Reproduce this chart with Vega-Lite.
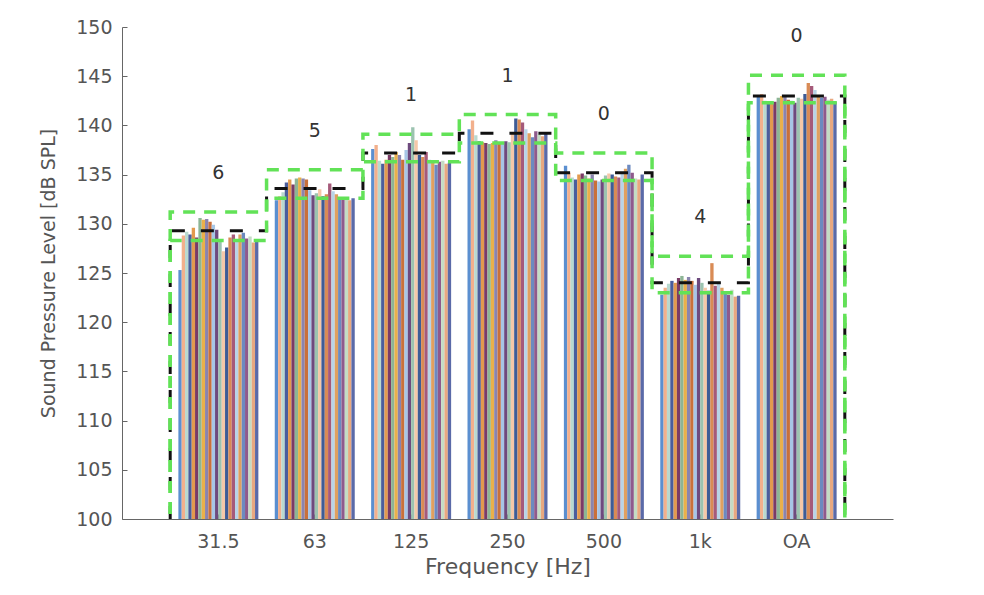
{
  "$schema": "https://vega.github.io/schema/vega-lite/v6.json",
  "width": 771,
  "height": 492,
  "autosize": {"type": "none"},
  "padding": {"left": 122, "top": 27, "right": 91, "bottom": 76},
  "background": "white",
  "config": {
    "view": {"stroke": null},
    "font": "DejaVu Sans",
    "axis": {"grid": false, "domainColor": "#666", "tickColor": "#666", "labelColor": "#555", "titleColor": "#555", "labelFont": "DejaVu Sans", "titleFont": "DejaVu Sans", "titleFontWeight": "normal"}
  },
  "datasets": {
    "bars": [
      {"f": "31.5", "s": "s01", "v": 125.3}, {"f": "31.5", "s": "s02", "v": 128.8}, {"f": "31.5", "s": "s03", "v": 129.2}, {"f": "31.5", "s": "s04", "v": 128.9},
      {"f": "31.5", "s": "s05", "v": 129.6}, {"f": "31.5", "s": "s06", "v": 128.6}, {"f": "31.5", "s": "s07", "v": 130.6}, {"f": "31.5", "s": "s08", "v": 130.4},
      {"f": "31.5", "s": "s09", "v": 130.5}, {"f": "31.5", "s": "s10", "v": 130.2}, {"f": "31.5", "s": "s11", "v": 129.9}, {"f": "31.5", "s": "s12", "v": 129.4},
      {"f": "31.5", "s": "s13", "v": 128.4}, {"f": "31.5", "s": "s14", "v": 127.2}, {"f": "31.5", "s": "s15", "v": 127.6}, {"f": "31.5", "s": "s16", "v": 128.6},
      {"f": "31.5", "s": "s17", "v": 128.9}, {"f": "31.5", "s": "s18", "v": 128.3}, {"f": "31.5", "s": "s19", "v": 128.9}, {"f": "31.5", "s": "s20", "v": 129.1},
      {"f": "31.5", "s": "s21", "v": 128.5}, {"f": "31.5", "s": "s22", "v": 128.7}, {"f": "31.5", "s": "s23", "v": 128.1}, {"f": "31.5", "s": "s24", "v": 128.4},
      {"f": "63", "s": "s01", "v": 132.4}, {"f": "63", "s": "s02", "v": 132.8}, {"f": "63", "s": "s03", "v": 133.2}, {"f": "63", "s": "s04", "v": 134.2},
      {"f": "63", "s": "s05", "v": 134.5}, {"f": "63", "s": "s06", "v": 134.0}, {"f": "63", "s": "s07", "v": 134.6}, {"f": "63", "s": "s08", "v": 134.7},
      {"f": "63", "s": "s09", "v": 134.6}, {"f": "63", "s": "s10", "v": 134.5}, {"f": "63", "s": "s11", "v": 133.4}, {"f": "63", "s": "s12", "v": 132.9},
      {"f": "63", "s": "s13", "v": 133.1}, {"f": "63", "s": "s14", "v": 133.5}, {"f": "63", "s": "s15", "v": 132.8}, {"f": "63", "s": "s16", "v": 133.0},
      {"f": "63", "s": "s17", "v": 134.1}, {"f": "63", "s": "s18", "v": 133.3}, {"f": "63", "s": "s19", "v": 133.0}, {"f": "63", "s": "s20", "v": 132.6},
      {"f": "63", "s": "s21", "v": 132.5}, {"f": "63", "s": "s22", "v": 132.7}, {"f": "63", "s": "s23", "v": 132.4}, {"f": "63", "s": "s24", "v": 132.6},
      {"f": "125", "s": "s01", "v": 137.6}, {"f": "125", "s": "s02", "v": 138.0}, {"f": "125", "s": "s03", "v": 136.4}, {"f": "125", "s": "s04", "v": 136.1},
      {"f": "125", "s": "s05", "v": 136.5}, {"f": "125", "s": "s06", "v": 137.0}, {"f": "125", "s": "s07", "v": 136.8}, {"f": "125", "s": "s08", "v": 137.3},
      {"f": "125", "s": "s09", "v": 137.0}, {"f": "125", "s": "s10", "v": 136.5}, {"f": "125", "s": "s11", "v": 137.5}, {"f": "125", "s": "s12", "v": 138.2},
      {"f": "125", "s": "s13", "v": 139.8}, {"f": "125", "s": "s14", "v": 138.5}, {"f": "125", "s": "s15", "v": 137.0}, {"f": "125", "s": "s16", "v": 136.8},
      {"f": "125", "s": "s17", "v": 137.3}, {"f": "125", "s": "s18", "v": 136.5}, {"f": "125", "s": "s19", "v": 136.2}, {"f": "125", "s": "s20", "v": 136.0},
      {"f": "125", "s": "s21", "v": 136.3}, {"f": "125", "s": "s22", "v": 136.4}, {"f": "125", "s": "s23", "v": 136.1}, {"f": "125", "s": "s24", "v": 136.2},
      {"f": "250", "s": "s01", "v": 139.6}, {"f": "250", "s": "s02", "v": 140.5}, {"f": "250", "s": "s03", "v": 139.0}, {"f": "250", "s": "s04", "v": 138.4},
      {"f": "250", "s": "s05", "v": 138.3}, {"f": "250", "s": "s06", "v": 138.2}, {"f": "250", "s": "s07", "v": 138.1}, {"f": "250", "s": "s08", "v": 138.2},
      {"f": "250", "s": "s09", "v": 138.5}, {"f": "250", "s": "s10", "v": 138.3}, {"f": "250", "s": "s11", "v": 138.2}, {"f": "250", "s": "s12", "v": 138.4},
      {"f": "250", "s": "s13", "v": 138.3}, {"f": "250", "s": "s14", "v": 139.3}, {"f": "250", "s": "s15", "v": 140.7}, {"f": "250", "s": "s16", "v": 140.6},
      {"f": "250", "s": "s17", "v": 140.3}, {"f": "250", "s": "s18", "v": 139.6}, {"f": "250", "s": "s19", "v": 139.2}, {"f": "250", "s": "s20", "v": 138.8},
      {"f": "250", "s": "s21", "v": 139.4}, {"f": "250", "s": "s22", "v": 139.1}, {"f": "250", "s": "s23", "v": 138.9}, {"f": "250", "s": "s24", "v": 139.3},
      {"f": "500", "s": "s01", "v": 135.9}, {"f": "500", "s": "s02", "v": 135.2}, {"f": "500", "s": "s03", "v": 134.7}, {"f": "500", "s": "s04", "v": 134.5},
      {"f": "500", "s": "s05", "v": 135.0}, {"f": "500", "s": "s06", "v": 135.1}, {"f": "500", "s": "s07", "v": 134.9}, {"f": "500", "s": "s08", "v": 134.6},
      {"f": "500", "s": "s09", "v": 135.0}, {"f": "500", "s": "s10", "v": 134.4}, {"f": "500", "s": "s11", "v": 134.3}, {"f": "500", "s": "s12", "v": 134.5},
      {"f": "500", "s": "s13", "v": 134.9}, {"f": "500", "s": "s14", "v": 135.1}, {"f": "500", "s": "s15", "v": 135.0}, {"f": "500", "s": "s16", "v": 134.8},
      {"f": "500", "s": "s17", "v": 134.7}, {"f": "500", "s": "s18", "v": 135.3}, {"f": "500", "s": "s19", "v": 135.6}, {"f": "500", "s": "s20", "v": 136.0},
      {"f": "500", "s": "s21", "v": 135.2}, {"f": "500", "s": "s22", "v": 134.6}, {"f": "500", "s": "s23", "v": 134.5}, {"f": "500", "s": "s24", "v": 135.0},
      {"f": "1k", "s": "s01", "v": 122.8}, {"f": "1k", "s": "s02", "v": 123.5}, {"f": "1k", "s": "s03", "v": 123.9}, {"f": "1k", "s": "s04", "v": 124.2},
      {"f": "1k", "s": "s05", "v": 124.0}, {"f": "1k", "s": "s06", "v": 124.5}, {"f": "1k", "s": "s07", "v": 124.7}, {"f": "1k", "s": "s08", "v": 124.3},
      {"f": "1k", "s": "s09", "v": 124.6}, {"f": "1k", "s": "s10", "v": 124.2}, {"f": "1k", "s": "s11", "v": 123.8}, {"f": "1k", "s": "s12", "v": 124.5},
      {"f": "1k", "s": "s13", "v": 124.0}, {"f": "1k", "s": "s14", "v": 123.5}, {"f": "1k", "s": "s15", "v": 123.2}, {"f": "1k", "s": "s16", "v": 126.0},
      {"f": "1k", "s": "s17", "v": 123.7}, {"f": "1k", "s": "s18", "v": 124.0}, {"f": "1k", "s": "s19", "v": 123.5}, {"f": "1k", "s": "s20", "v": 123.0},
      {"f": "1k", "s": "s21", "v": 122.8}, {"f": "1k", "s": "s22", "v": 123.3}, {"f": "1k", "s": "s23", "v": 122.6}, {"f": "1k", "s": "s24", "v": 122.7},
      {"f": "OA", "s": "s01", "v": 142.9}, {"f": "OA", "s": "s02", "v": 143.2}, {"f": "OA", "s": "s03", "v": 142.5}, {"f": "OA", "s": "s04", "v": 142.3},
      {"f": "OA", "s": "s05", "v": 142.2}, {"f": "OA", "s": "s06", "v": 142.4}, {"f": "OA", "s": "s07", "v": 142.8}, {"f": "OA", "s": "s08", "v": 143.0},
      {"f": "OA", "s": "s09", "v": 142.9}, {"f": "OA", "s": "s10", "v": 142.6}, {"f": "OA", "s": "s11", "v": 142.5}, {"f": "OA", "s": "s12", "v": 142.3},
      {"f": "OA", "s": "s13", "v": 142.8}, {"f": "OA", "s": "s14", "v": 142.7}, {"f": "OA", "s": "s15", "v": 143.2}, {"f": "OA", "s": "s16", "v": 144.3},
      {"f": "OA", "s": "s17", "v": 144.0}, {"f": "OA", "s": "s18", "v": 143.6}, {"f": "OA", "s": "s19", "v": 143.0}, {"f": "OA", "s": "s20", "v": 142.8},
      {"f": "OA", "s": "s21", "v": 142.9}, {"f": "OA", "s": "s22", "v": 142.6}, {"f": "OA", "s": "s23", "v": 142.7}, {"f": "OA", "s": "s24", "v": 142.4}
    ],
    "limits": [
      {"i": 0, "upper": 99, "lower": 99, "mid": 99, "n": null},
      {"i": 1, "upper": 131.2, "lower": 128.3, "mid": 129.3, "n": "6"},
      {"i": 2, "upper": 135.5, "lower": 132.6, "mid": 133.6, "n": "5"},
      {"i": 3, "upper": 139.1, "lower": 136.3, "mid": 137.2, "n": "1"},
      {"i": 4, "upper": 141.1, "lower": 138.2, "mid": 139.2, "n": "1"},
      {"i": 5, "upper": 137.2, "lower": 134.4, "mid": 135.2, "n": "0"},
      {"i": 6, "upper": 126.7, "lower": 123.0, "mid": 124.0, "n": "4"},
      {"i": 7, "upper": 145.1, "lower": 142.3, "mid": 143.0, "n": "0"},
      {"i": 8, "upper": 99, "lower": 99, "mid": 99, "n": null}
    ]
  },
  "encoding": {
    "y": {
      "type": "quantitative",
      "scale": {"domain": [100, 150], "nice": false, "zero": false},
      "axis": {
        "title": "Sound Pressure Level [dB SPL]",
        "values": [100, 105, 110, 115, 120, 125, 130, 135, 140, 145, 150],
        "labelFontSize": 19, "titleFontSize": 19, "tickSize": -5, "labelPadding": 15, "titlePadding": 17
      }
    }
  },
  "layer": [
    {
      "data": {"name": "bars"},
      "mark": {"type": "bar"},
      "encoding": {
        "x": {
          "field": "f", "type": "nominal",
          "scale": {"domain": ["31.5", "63", "125", "250", "500", "1k", "OA"], "paddingInner": 0.17, "paddingOuter": 0.585},
          "axis": {"title": "Frequency [Hz]", "labelAngle": 0, "labelFontSize": 19, "titleFontSize": 22, "tickSize": -5, "labelPadding": 18, "titlePadding": 5}
        },
        "xOffset": {"field": "s", "type": "nominal", "scale": {"paddingInner": 0}},
        "y": {"field": "v"},
        "y2": {"datum": 100},
        "color": {
          "field": "s", "type": "nominal", "legend": null,
          "scale": {"range": ["#5B8FD0", "#F2B08C", "#B9D9CF", "#4A5D9C", "#E39A4E", "#7B3B66", "#8DB595", "#EAB04A", "#8A84AE", "#C9703A", "#A7C6E6", "#6E4A7E", "#9CC3B0", "#F5C8A8", "#3E5C96", "#D98B55", "#A55A7A", "#B8D4E8", "#E0A060", "#6C8AC0", "#8F5A8C", "#C4DCC4", "#E8A880", "#5A6AA8"]}
        }
      }
    },
    {
      "data": {"name": "limits"},
      "encoding": {
        "x": {"field": "i", "type": "quantitative", "scale": {"domain": [0, 8], "nice": false, "zero": false}, "axis": null}
      },
      "layer": [
        {"mark": {"type": "line", "interpolate": "step", "clip": true, "color": "#111", "strokeWidth": 3, "strokeDash": [13, 16]}, "encoding": {"y": {"field": "mid"}}},
        {"mark": {"type": "line", "interpolate": "step", "clip": true, "color": "#62E257", "strokeWidth": 3.5, "strokeDash": [12, 9]}, "encoding": {"y": {"field": "upper"}}},
        {"mark": {"type": "line", "interpolate": "step", "clip": true, "color": "#62E257", "strokeWidth": 3.5, "strokeDash": [12, 9]}, "encoding": {"y": {"field": "lower"}}},
        {
          "transform": [{"filter": "datum.n != null"}],
          "mark": {"type": "text", "fontSize": 19, "color": "#333", "dy": -39, "baseline": "middle", "font": "DejaVu Sans"},
          "encoding": {"y": {"field": "upper"}, "text": {"field": "n"}}
        }
      ]
    }
  ],
  "resolve": {"scale": {"x": "independent", "color": "independent"}}
}
